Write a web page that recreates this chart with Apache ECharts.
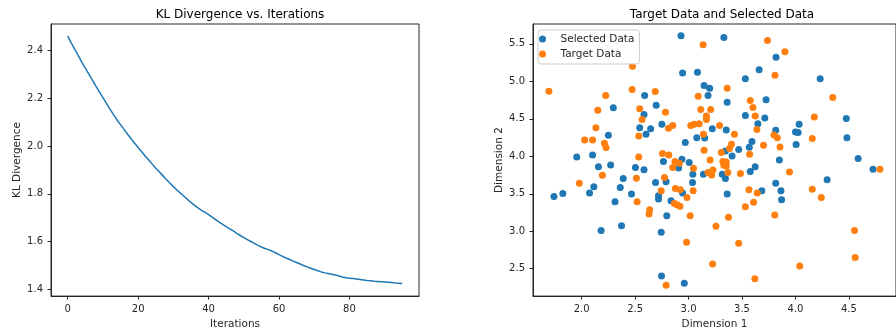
<!DOCTYPE html>
<html>
<head>
<meta charset="utf-8">
<title>KL Divergence / Target and Selected Data</title>
<script src="https://cdn.jsdelivr.net/npm/echarts@6.0.0/dist/echarts.min.js"></script>
<style>
    html, body { margin: 0; padding: 0; background: #fff; }
    #main { width: 896px; height: 335px; }
</style>
</head>
<body>
<div id="main"></div>
<script>
// KL divergence per iteration (index = iteration)
var klDivergence = [
    2.458, 2.430, 2.403, 2.377, 2.350, 2.325, 2.300, 2.275, 2.250, 2.226,
    2.202, 2.178, 2.154, 2.131, 2.108, 2.089, 2.069, 2.049, 2.030, 2.011,
    1.993, 1.976, 1.958, 1.941, 1.924, 1.907, 1.892, 1.876, 1.860, 1.845,
    1.830, 1.816, 1.803, 1.790, 1.777, 1.764, 1.752, 1.741, 1.731, 1.723,
    1.713, 1.703, 1.692, 1.682, 1.672, 1.663, 1.654, 1.645, 1.635, 1.626,
    1.617, 1.609, 1.601, 1.593, 1.585, 1.578, 1.572, 1.567, 1.561, 1.554,
    1.546, 1.539, 1.532, 1.526, 1.519, 1.513, 1.507, 1.501, 1.495, 1.489,
    1.484, 1.479, 1.474, 1.470, 1.467, 1.464, 1.461, 1.457, 1.453, 1.450,
    1.448, 1.446, 1.444, 1.442, 1.440, 1.438, 1.437, 1.435, 1.434, 1.433,
    1.432, 1.431, 1.430, 1.428, 1.427, 1.426
];
var iterTicks = [0, 20, 40, 60, 80];
var klTicks = [1.4, 1.6, 1.8, 2.0, 2.2, 2.4];

// [dimension 1, dimension 2]
var selectedData = [
    [2.929, 5.608], [2.944, 5.112], [2.589, 4.811], [2.697, 4.682], [2.296, 4.647],
    [2.583, 4.558], [2.750, 4.426], [2.543, 4.382], [2.645, 4.368], [2.602, 4.293],
    [2.250, 4.280], [1.954, 3.992], [2.102, 4.018], [2.157, 3.859], [2.271, 3.885],
    [2.503, 3.850], [2.765, 3.930], [2.969, 4.183], [3.077, 4.249], [3.083, 5.120],
    [3.145, 4.943], [3.330, 5.585], [3.818, 5.320], [3.660, 5.156], [3.531, 5.036],
    [4.231, 5.036], [3.197, 4.908], [3.182, 4.811], [3.361, 4.722], [3.725, 4.753],
    [3.531, 4.545], [3.713, 4.510], [3.648, 4.435], [4.475, 4.505], [3.222, 4.368],
    [3.352, 4.350], [3.815, 4.346], [4.000, 4.323], [4.034, 4.426], [4.025, 4.316],
    [3.151, 4.245], [4.481, 4.249], [3.593, 4.196], [3.568, 4.120], [4.006, 4.156],
    [3.469, 4.090], [3.345, 4.072], [3.407, 4.005], [3.849, 3.952], [4.586, 3.970],
    [4.725, 3.828], [3.623, 3.859], [3.139, 3.762], [3.315, 3.762], [3.345, 3.704],
    [3.577, 3.797], [4.296, 3.686], [3.815, 3.642], [3.685, 3.540], [3.864, 3.540],
    [3.870, 3.420], [3.361, 3.496], [1.741, 3.465], [1.824, 3.505], [2.074, 3.509],
    [2.114, 3.593], [2.312, 3.394], [2.182, 3.009], [2.373, 3.075], [2.361, 3.585],
    [2.389, 3.704], [2.466, 3.496], [2.583, 3.819], [2.691, 3.651], [2.719, 3.474],
    [2.719, 3.430], [2.790, 3.659], [2.836, 3.407], [2.796, 3.208], [2.944, 3.509],
    [2.744, 2.987], [2.747, 2.403], [2.960, 2.305], [3.037, 3.651], [3.040, 3.760],
    [3.006, 3.917], [2.907, 3.845], [2.938, 3.961]
];
var targetData = [
    [1.694, 4.868], [2.475, 5.200], [2.472, 4.890], [2.688, 4.864], [2.225, 4.811],
    [2.151, 4.616], [2.543, 4.634], [2.565, 4.492], [2.784, 4.589], [2.812, 4.373],
    [2.852, 4.412], [2.534, 4.270], [2.133, 4.382], [2.028, 4.217], [2.102, 4.217],
    [2.213, 4.173], [2.228, 4.116], [2.534, 3.992], [2.756, 4.036], [2.815, 4.018],
    [3.139, 4.293], [3.021, 4.412], [3.052, 4.426], [3.099, 4.435], [3.114, 4.625],
    [3.090, 4.801], [3.136, 5.488], [3.738, 5.545], [3.901, 5.395], [3.808, 5.080],
    [3.361, 4.908], [3.577, 4.744], [3.602, 4.651], [4.349, 4.784], [3.207, 4.625],
    [3.167, 4.536], [3.167, 4.492], [3.623, 4.536], [4.176, 4.523], [3.290, 4.412],
    [3.639, 4.359], [3.429, 4.293], [3.799, 4.284], [3.830, 4.249], [4.157, 4.236],
    [3.701, 4.147], [3.855, 4.124], [3.401, 4.160], [3.383, 4.103], [3.145, 4.080],
    [3.306, 4.050], [3.571, 4.027], [3.201, 3.952], [3.321, 3.930], [3.352, 3.925],
    [3.352, 3.872], [4.790, 3.828], [3.182, 3.784], [3.216, 3.752], [3.228, 3.818],
    [3.367, 3.784], [3.485, 3.771], [3.944, 3.792], [3.565, 3.553], [3.642, 3.509],
    [4.157, 3.562], [4.241, 3.452], [3.608, 3.386], [3.531, 3.328], [3.806, 3.217],
    [3.373, 3.186], [3.256, 3.067], [4.552, 3.009], [3.469, 2.841], [4.558, 2.650],
    [3.225, 2.562], [4.040, 2.536], [3.620, 2.367], [1.978, 3.642], [2.194, 3.748],
    [2.512, 3.708], [2.519, 3.394], [2.636, 3.288], [2.630, 3.230], [2.744, 3.540],
    [2.775, 3.718], [2.867, 3.372], [2.892, 3.354], [2.920, 3.333], [2.877, 3.572],
    [2.923, 3.553], [2.985, 3.452], [3.015, 3.208], [2.981, 2.855], [2.790, 2.279],
    [3.043, 3.540], [3.046, 3.840], [2.873, 3.930], [2.914, 3.907], [2.852, 3.850],
    [3.330, 3.880]
];
var dim1Ticks = [2.0, 2.5, 3.0, 3.5, 4.0, 4.5];
var dim2Ticks = [2.5, 3.0, 3.5, 4.0, 4.5, 5.0, 5.5];

var chart = echarts.init(document.getElementById('main'), null, { renderer: 'canvas' });
var FONT = 'DejaVu Sans';
var INK = '#262626';

// shared look of a matplotlib-like axis, ticks pointing out
function axisStyle(ticks, digits) {
    return {
        axisLine: { show: true, onZero: false, lineStyle: { color: INK, width: 1 } },
        axisTick: { show: true, inside: false, length: 3.5, customValues: ticks, lineStyle: { color: INK, width: 1 } },
        axisLabel: {
            customValues: ticks, color: INK, fontFamily: FONT, fontSize: 10,
            formatter: function (v) { return Number(v).toFixed(digits); }
        },
        splitLine: { show: false },
        nameTextStyle: { color: INK, fontFamily: FONT, fontSize: 10.5 }
    };
}

var klPoints = klDivergence.map(function (v, i) { return [i, v]; });

chart.setOption({
    animation: false,
    backgroundColor: '#fff',
    title: [
        { text: 'KL Divergence vs. Iterations', left: 235, top: 4, textAlign: 'center',
          textStyle: { fontFamily: FONT, fontSize: 12, fontWeight: 'normal', color: '#000' } },
        { text: 'Target Data and Selected Data', left: 717, top: 4, textAlign: 'center',
          textStyle: { fontFamily: FONT, fontSize: 12, fontWeight: 'normal', color: '#000' } }
    ],
    grid: [
        { left: 51, top: 24, width: 368, height: 275, show: true, borderColor: INK, borderWidth: 1, backgroundColor: '#fff' },
        { left: 533, top: 24, width: 368, height: 274, show: true, borderColor: INK, borderWidth: 1, backgroundColor: '#fff' }
    ],
    legend: {
        data: ['Selected Data', 'Target Data'],
        orient: 'vertical',
        left: 538, top: 30,
        icon: 'circle',
        itemWidth: 26, itemHeight: 7, itemGap: 3,
        padding: [3, 5, 4, 1],
        backgroundColor: 'rgba(255,255,255,0.8)',
        borderColor: '#cccccc', borderWidth: 1, borderRadius: 3,
        textStyle: { fontFamily: FONT, fontSize: 10.5, lineHeight: 12, color: INK }
    },
    xAxis: [
        Object.assign({ type: 'value', gridIndex: 0, min: -4.75, max: 99.75,
            name: 'Iterations', nameLocation: 'middle', nameGap: 20 }, axisStyle(iterTicks, 0)),
        Object.assign({ type: 'value', gridIndex: 1, min: 1.545, max: 4.94,
            name: 'Dimension 1', nameLocation: 'middle', nameGap: 21 }, axisStyle(dim1Ticks, 1))
    ],
    yAxis: [
        Object.assign({ type: 'value', gridIndex: 0, min: 1.373, max: 2.509,
            name: 'KL Divergence', nameLocation: 'middle', nameGap: 28 }, axisStyle(klTicks, 1)),
        Object.assign({ type: 'value', gridIndex: 1, min: 2.135, max: 5.765,
            name: 'Dimension 2', nameLocation: 'middle', nameGap: 28 }, axisStyle(dim2Ticks, 1))
    ],
    series: [
        {
            name: 'KL Divergence', type: 'line', xAxisIndex: 0, yAxisIndex: 0,
            data: klPoints, showSymbol: false, smooth: false,
            lineStyle: { color: '#1f77b4', width: 1.5 }
        },
        {
            name: 'Selected Data', type: 'scatter', xAxisIndex: 1, yAxisIndex: 1,
            data: selectedData, symbolSize: 7,
            itemStyle: { color: '#1f77b4', opacity: 1 }
        },
        {
            name: 'Target Data', type: 'scatter', xAxisIndex: 1, yAxisIndex: 1,
            data: targetData, symbolSize: 7,
            itemStyle: { color: '#ff7f0e', opacity: 1 }
        }
    ]
});
</script>
</body>
</html>
